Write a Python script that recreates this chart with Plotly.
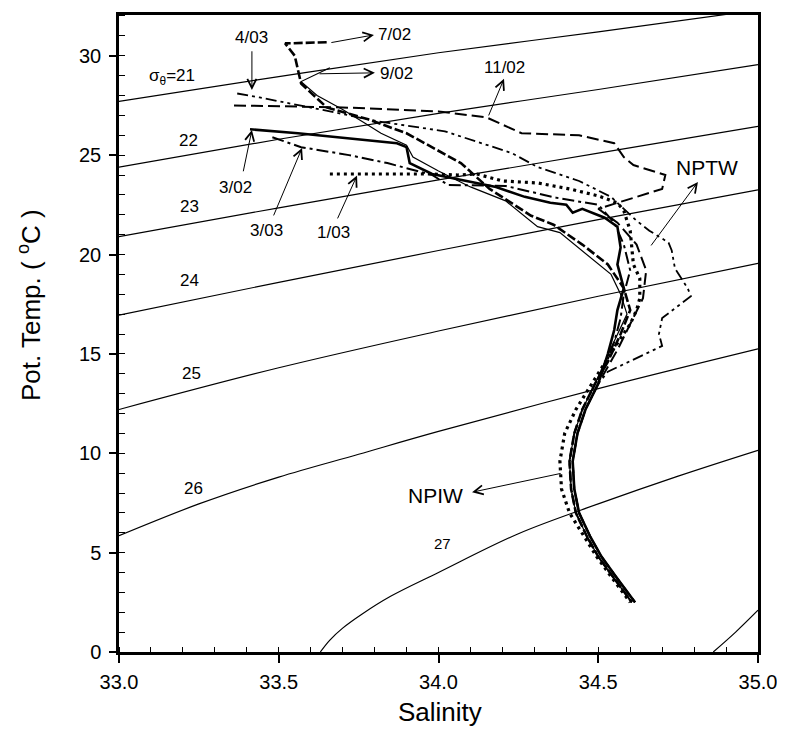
import plotly.graph_objects as go

# ---------------- isopycnals (sigma-theta) ----------------
sig21_S = [33.0, 33.5, 34.0, 34.5, 35.0]
sig21_T = [27.7, 28.95, 30.15, 31.2, 32.3]
sig22_S = [33.0, 33.5, 34.0, 34.5, 35.0]
sig22_T = [24.4, 25.8, 27.1, 28.3, 29.55]
sig23_S = [33.0, 33.5, 34.0, 34.5, 35.0]
sig23_T = [20.9, 22.35, 23.75, 25.1, 26.45]
sig24_S = [33.0, 33.5, 34.0, 34.5, 35.0]
sig24_T = [16.95, 18.6, 20.2, 21.75, 23.25]
sig25_S = [33.0, 33.5, 34.0, 34.5, 35.0]
sig25_T = [12.2, 14.3, 16.15, 17.9, 19.55]
sig26_S = [33.0, 33.25, 33.5, 33.75, 34.0, 34.5, 35.0]
sig26_T = [5.85, 7.45, 8.8, 9.95, 11.1, 13.25, 15.25]
sig27_S = [33.63, 33.66, 33.70, 33.76, 33.85, 34.0, 34.25, 34.5, 34.75, 35.0]
sig27_T = [0.0, 0.6, 1.2, 1.9, 2.8, 4.0, 5.95, 7.45, 8.85, 10.15]
sig28_S = [34.86, 34.93, 35.0]
sig28_T = [0.0, 1.0, 2.1]

# ---------------- deep parts of the profiles ----------------
deep_T = [13.5, 12.2, 11.0, 9.6, 8.2, 7.0, 5.8, 4.8, 3.8, 2.5]
deep_S_a = [34.49, 34.45, 34.425, 34.41, 34.415, 34.43, 34.465, 34.50, 34.545, 34.605]
deep_S_b = [34.50, 34.46, 34.435, 34.42, 34.425, 34.44, 34.475, 34.51, 34.555, 34.615]
deep_S_dot = [34.48, 34.43, 34.395, 34.38, 34.385, 34.41, 34.455, 34.495, 34.54, 34.60]

# ---------------- upper parts of the profiles ----------------
p0702_S = [33.65, 33.58, 33.52, 33.55, 33.57, 33.65, 33.78, 33.90, 34.07, 34.16, 34.29,
           34.36, 34.45, 34.53, 34.58, 34.60, 34.57, 34.53]
p0702_T = [30.68, 30.65, 30.62, 30.0, 28.6, 27.4, 26.8, 26.1, 24.6, 23.3, 21.95,
           21.5, 20.5, 19.5, 18.3, 17.2, 16.0, 14.6]
p0902_S = [33.66, 33.57, 33.62, 33.70, 33.77, 33.82, 33.90, 33.92, 34.0, 34.1, 34.21,
           34.31, 34.38, 34.45, 34.54, 34.57, 34.59, 34.54]
p0902_T = [29.4, 28.7, 28.0, 27.3, 26.6, 26.1, 25.5, 24.9, 24.2, 23.4, 22.7,
           21.4, 21.1, 20.2, 19.0, 18.0, 17.0, 15.3]
p1102_S = [33.36, 33.7, 34.0, 34.15, 34.26, 34.44, 34.55, 34.58, 34.61, 34.71, 34.70,
           34.62, 34.50, 34.56, 34.62, 34.65, 34.64, 34.60, 34.56]
p1102_T = [27.5, 27.4, 27.2, 26.9, 26.1, 26.0, 25.6, 24.9, 24.5, 24.0, 23.3,
           22.9, 22.3, 21.6, 20.5, 19.2, 17.8, 16.5, 15.2]
p0302_S = [33.41, 33.56, 33.87, 33.90, 33.91, 33.98, 34.18, 34.27, 34.35, 34.40, 34.42,
           34.45, 34.52, 34.56, 34.57, 34.56, 34.58, 34.56, 34.55, 34.53]
p0302_T = [26.3, 26.1, 25.6, 25.4, 24.6, 24.05, 23.4, 22.9, 22.6, 22.5, 22.1,
           22.3, 21.85, 21.4, 20.35, 19.5, 18.3, 17.2, 16.2, 15.0]
p0303_S = [33.48, 33.57, 33.72, 33.84, 33.98, 34.03, 34.21, 34.37, 34.50, 34.55, 34.58,
           34.60, 34.58, 34.57, 34.55, 34.52]
p0303_T = [25.9, 25.4, 25.0, 24.6, 24.0, 23.5, 23.45, 22.85, 22.5, 21.6, 20.5,
           19.2, 18.0, 16.8, 15.6, 14.3]
p0403_S = [33.37, 33.44, 33.66, 33.81, 34.02, 34.23, 34.31, 34.44, 34.54, 34.62, 34.66,
           34.72, 34.73, 34.74, 34.78, 34.79, 34.70, 34.69, 34.70, 34.57, 34.53]
p0403_T = [28.1, 27.9, 27.2, 26.7, 26.2, 25.1, 24.4, 23.7, 22.9, 21.7, 21.2,
           20.6, 20.2, 19.3, 18.3, 17.9, 16.8, 16.0, 15.4, 14.4, 14.1]
p0103_S = [33.66, 33.98, 34.06, 34.12, 34.20, 34.31, 34.41, 34.50, 34.56, 34.58, 34.60,
           34.61, 34.63, 34.63, 34.62, 34.60, 34.55, 34.51]
p0103_T = [24.05, 24.05, 24.0, 24.05, 23.7, 23.6, 23.3, 22.95, 22.6, 22.2, 21.2,
           19.5, 18.8, 17.8, 17.2, 16.5, 15.3, 14.3]

x_ticks = [33.0, 33.5, 34.0, 34.5, 35.0]
y_ticks = [0, 5, 10, 15, 20, 25, 30]

fig = go.Figure()

for s, t in [(sig21_S, sig21_T), (sig22_S, sig22_T), (sig23_S, sig23_T), (sig24_S, sig24_T),
             (sig25_S, sig25_T), (sig26_S, sig26_T), (sig27_S, sig27_T), (sig28_S, sig28_T)]:
    fig.add_trace(go.Scatter(x=s, y=t, mode="lines", line=dict(color="black", width=1.2),
                             line_shape="spline", showlegend=False, hoverinfo="skip"))

profiles = [
    (p0902_S + deep_S_a, p0902_T + deep_T, dict(width=1.2, dash="solid")),
    (p0702_S + deep_S_a, p0702_T + deep_T, dict(width=2.6, dash="9px,3px")),
    (p1102_S + deep_S_b, p1102_T + deep_T, dict(width=2.0, dash="12px,5px")),
    (p0302_S + deep_S_b, p0302_T + deep_T, dict(width=2.6, dash="solid")),
    (p0303_S + deep_S_a, p0303_T + deep_T, dict(width=2.0, dash="12px,4px,3px,4px")),
    (p0403_S + deep_S_b, p0403_T + deep_T, dict(width=1.8, dash="11px,4px,3px,4px,3px,4px")),
    (p0103_S + deep_S_dot, p0103_T + deep_T, dict(width=3.2, dash="3px,4px")),
]
for s, t, ln in profiles:
    fig.add_trace(go.Scatter(x=s, y=t, mode="lines", line=dict(color="black", **ln),
                             showlegend=False, hoverinfo="skip"))

FONT = "Liberation Sans, Arial, sans-serif"

labels = [
    ("σ<sub>θ</sub>=21", 33.166, 28.94, 17),
    ("22", 33.216, 25.76, 17), ("23", 33.222, 22.39, 17), ("24", 33.222, 18.71, 17),
    ("25", 33.228, 14.03, 17), ("26", 33.232, 8.24, 17), ("27", 34.014, 5.47, 15),
    ("4/03", 33.416, 30.90, 17), ("7/02", 33.861, 31.05, 17), ("9/02", 33.870, 29.09, 17),
    ("11/02", 34.208, 29.39, 17), ("3/02", 33.366, 23.35, 17), ("3/03", 33.463, 21.23, 17),
    ("1/03", 33.670, 21.13, 17), ("NPTW", 34.840, 24.40, 21), ("NPIW", 33.992, 7.89, 21),
]
for txt, x, y, sz in labels:
    fig.add_annotation(x=x, y=y, text=txt, showarrow=False, xref="x", yref="y",
                       xanchor="center", yanchor="middle",
                       font=dict(family=FONT, size=sz, color="black"))

arrows = [  # head (x, y), tail (ax, ay)
    (33.416, 28.28, 33.416, 30.30),
    (33.798, 31.05, 33.660, 30.65),
    (33.801, 29.14, 33.623, 29.09),
    (34.205, 28.84, 34.155, 26.92),
    (33.416, 26.27, 33.388, 24.11),
    (33.573, 25.36, 33.482, 21.89),
    (33.745, 23.97, 33.682, 21.74),
    (34.812, 23.65, 34.662, 20.38),
    (34.105, 8.04, 34.387, 9.00),
]
for x, y, ax, ay in arrows:
    fig.add_annotation(x=x, y=y, ax=ax, ay=ay, xref="x", yref="y", axref="x", ayref="y",
                       text="", showarrow=True, arrowhead=5, arrowsize=1.8, arrowwidth=1,
                       arrowcolor="black", standoff=0, startstandoff=0)

# axis titles
fig.add_annotation(x=-0.139, y=0.545, xref="paper", yref="paper", text="Pot. Temp. ( <sup>o</sup>C )",
                   textangle=-90, showarrow=False, xanchor="center", yanchor="middle",
                   font=dict(family=FONT, size=26, color="black"))
fig.add_annotation(x=0.502, y=-0.094, xref="paper", yref="paper", text="Salinity",
                   showarrow=False, xanchor="center", yanchor="middle",
                   font=dict(family=FONT, size=26, color="black"))

fig.update_xaxes(range=[33.0, 35.0], tickvals=x_ticks, ticktext=[f"{v:.1f}" for v in x_ticks],
                 ticks="outside", ticklen=8, tickwidth=1.5, tickcolor="black",
                 minor=dict(dtick=0.1, tick0=33.0, ticks="inside", ticklen=5, tickwidth=1.2, tickcolor="black"),
                 showline=True, linewidth=2.5, linecolor="black", mirror=True,
                 showgrid=False, zeroline=False, ticklabelstandoff=2,
                 tickfont=dict(family=FONT, size=20, color="black"))
fig.update_yaxes(range=[0, 32.05], tickvals=y_ticks,
                 ticks="outside", ticklen=7, tickwidth=1.5, tickcolor="black",
                 minor=dict(dtick=1, tick0=0, ticks="inside", ticklen=6, tickwidth=1.2, tickcolor="black"),
                 showline=True, linewidth=2.5, linecolor="black", mirror=True,
                 showgrid=False, zeroline=False, ticklabelstandoff=4,
                 tickfont=dict(family=FONT, size=20, color="black"))

# the page body adds an 8px offset, so the margins are reduced to keep the plot box in place
fig.update_layout(width=785, height=738, margin=dict(l=111, r=35, t=7, b=94, autoexpand=False),
                  plot_bgcolor="white", paper_bgcolor="white", showlegend=False)

fig.write_html("out.html")
